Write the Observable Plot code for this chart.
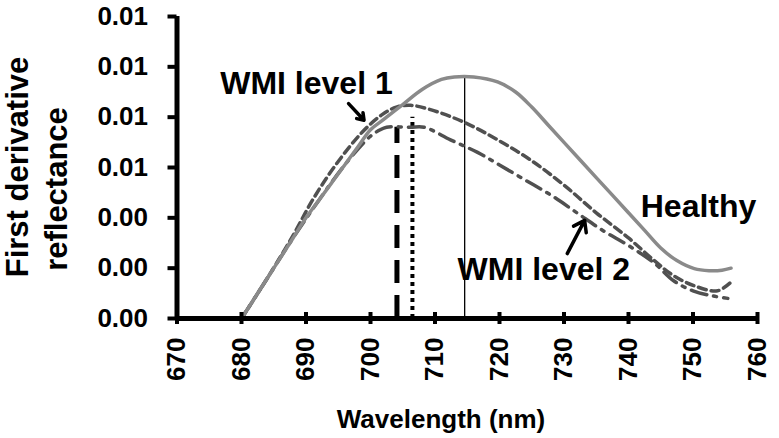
<!DOCTYPE html>
<html>
<head>
<meta charset="utf-8">
<script src="https://cdn.jsdelivr.net/npm/d3@7"></script>
<script src="https://cdn.jsdelivr.net/npm/@observablehq/plot@0.6"></script>
<style>
  html, body { margin: 0; padding: 0; background: #fff; }
</style>
</head>
<body>
<div id="chart"></div>
<script>
// ---- Data ----
const xTicks = [670, 680, 690, 700, 710, 720, 730, 740, 750, 760];
const xTickLabels = ["670", "680", "690", "700", "710", "720", "730", "740", "750", "760"];
const yTicks = [0, 0.002, 0.004, 0.006, 0.008, 0.01, 0.012];
const yTickLabels = ["0.00", "0.00", "0.00", "0.01", "0.01", "0.01", "0.01"];

const healthyNm = [680, 682, 684, 686, 688, 690, 692, 694, 696, 698, 700, 702, 705, 708, 711, 713, 716, 719.7, 722.5, 725, 727.5, 730, 732.5, 735, 737.5, 740, 742.5, 745, 747.5, 750.2, 752.5, 754.5, 755.9];
const healthyVal = [0, 0.0008, 0.0016, 0.0024, 0.0032, 0.0040, 0.0047, 0.0054, 0.0061, 0.0068, 0.0075, 0.0079, 0.0085, 0.0091, 0.0095, 0.0096, 0.0096, 0.0094, 0.0090, 0.0084, 0.0077, 0.0070, 0.0063, 0.0056, 0.0049, 0.0042, 0.0035, 0.0028, 0.0023, 0.00198, 0.0019, 0.00192, 0.0020];

const level1Nm = [680, 684, 688, 691, 694.6, 698.7, 701.8, 704, 706.2, 709.3, 714.5, 719.7, 724.8, 730, 735, 740, 744, 747, 750.2, 753.8, 755.9];
const level1Val = [0, 0.0016, 0.0033, 0.0047, 0.0061, 0.0074, 0.0081, 0.0084, 0.00847, 0.0083, 0.0078, 0.0071, 0.0063, 0.0053, 0.0042, 0.0032, 0.0023, 0.0017, 0.0013, 0.0011, 0.00145];

const level2Nm = [680, 684, 688, 692, 696, 699.8, 701.5, 702.5, 706.2, 708.3, 712.4, 716.6, 720, 724, 728, 732, 736, 740, 744, 747, 750, 753, 755.4];
const level2Val = [0, 0.0016, 0.0032, 0.0047, 0.0061, 0.0072, 0.0075, 0.0076, 0.0076, 0.0076, 0.0071, 0.0066, 0.0061, 0.0055, 0.0049, 0.0042, 0.0035, 0.0029, 0.0022, 0.0015, 0.0011, 0.0009, 0.0008];

// peak markers (wavelength, height)
const peakNm = [704.1, 706.5, 714.6];
const peakTop = [0.0076, 0.0080, 0.0096];

// annotations
const noteText = ["WMI level 1", "Healthy", "WMI level 2"];
const noteNm = [676.7, 741.9, 713.5];
const noteVal = [0.00934, 0.00444, 0.00193];

const arrowX1 = [696.6, 730.5];
const arrowY1 = [0.00854, 0.00258];
const arrowX2 = [699.0, 733.2];
const arrowY2 = [0.00788, 0.0039];

// ---- Build tables ----
const toRows = (xs, ys) => xs.map((x, i) => ({x, y: ys[i]}));
const healthy = toRows(healthyNm, healthyVal);
const level1 = toRows(level1Nm, level1Val);
const level2 = toRows(level2Nm, level2Val);
const notes = noteText.map((t, i) => ({t, x: noteNm[i], y: noteVal[i]}));
const arrows = arrowX1.map((x1, i) => ({x1, y1: arrowY1[i], x2: arrowX2[i], y2: arrowY2[i]}));

const chart = Plot.plot({
  width: 779,
  height: 438,
  marginLeft: 176.5,
  marginRight: 22,
  marginTop: 16,
  marginBottom: 120,
  style: {fontFamily: "'Liberation Sans', Arial, sans-serif", fontWeight: "bold", fontSize: "26px", color: "#000", background: "#fff"},
  x: {domain: [670, 760]},
  y: {domain: [0, 0.012]},
  marks: [
    // peak verticals
    Plot.ruleX([0], {x: () => peakNm[0], y1: 0, y2: () => peakTop[0], stroke: "#000", strokeWidth: 5, strokeDasharray: "23,12"}),
    Plot.ruleX([1], {x: () => peakNm[1], y1: 0, y2: () => peakTop[1], stroke: "#000", strokeWidth: 4, strokeDasharray: "4,4"}),
    Plot.ruleX([2], {x: () => peakNm[2], y1: 0, y2: () => peakTop[2], stroke: "#000", strokeWidth: 1.3}),
    // curves
    Plot.line(level2, {x: "x", y: "y", stroke: "#505050", strokeWidth: 3.5, strokeDasharray: "16,7,3,7", curve: "catmull-rom"}),
    Plot.line(level1, {x: "x", y: "y", stroke: "#505050", strokeWidth: 3.5, strokeDasharray: "8,5", curve: "catmull-rom"}),
    Plot.line(healthy, {x: "x", y: "y", stroke: "#8a8a8a", strokeWidth: 3.5, curve: "catmull-rom"}),
    // axes
    Plot.ruleX([670], {stroke: "#000", strokeWidth: 5}),
    Plot.ruleY([0], {stroke: "#000", strokeWidth: 5}),
    Plot.ruleX(xTicks, {x: d => d, y1: 0, y2: 0, insetTop: 6, insetBottom: 6, stroke: "#000", strokeWidth: 4}),
    Plot.axisY({ticks: yTicks, tickFormat: d => yTickLabels[yTicks.indexOf(d)], tickSize: 9, tickPadding: 20, strokeWidth: 4, fontSize: 26, label: null}),
    Plot.axisX({ticks: xTicks, tickFormat: d => xTickLabels[xTicks.indexOf(d)], tickSize: 0, tickPadding: 19, tickRotate: -90, fontSize: 26, label: null}),
    // annotations
    Plot.arrow(arrows, {x1: "x1", y1: "y1", x2: "x2", y2: "y2", stroke: "#000", strokeWidth: 3.5, headLength: 12, headAngle: 70}),
    Plot.text(notes, {x: "x", y: "y", text: "t", textAnchor: "start", fontSize: 32, fontWeight: "bold", fill: "#000"})
  ]
});

document.getElementById("chart").appendChild(chart);

// axis titles
const svg = d3.select(chart);
svg.append("text")
  .attr("transform", "translate(28,167) rotate(-90)")
  .attr("text-anchor", "middle")
  .style("font-size", "31px").style("font-weight", "bold")
  .text("First derivative");
svg.append("text")
  .attr("transform", "translate(67,189) rotate(-90)")
  .attr("text-anchor", "middle")
  .style("font-size", "31px").style("font-weight", "bold")
  .text("reflectance");
svg.append("text")
  .attr("x", 441).attr("y", 428)
  .attr("text-anchor", "middle")
  .style("font-size", "26px").style("font-weight", "bold")
  .text("Wavelength (nm)");
</script>
</body>
</html>
